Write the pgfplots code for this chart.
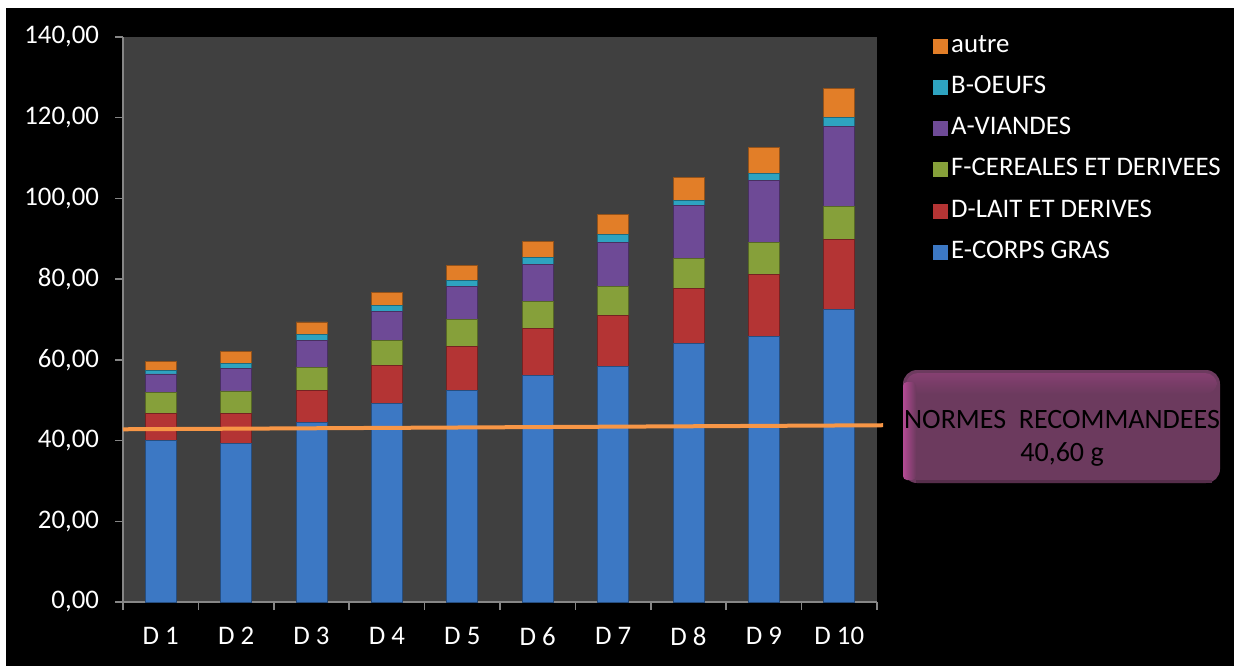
\documentclass[border=0pt]{standalone}
\usepackage{pgfplots}
\pgfplotsset{compat=1.18}
\usepackage{pgfplotstable}
\usepackage{fontspec}
\setmainfont{Carlito}

\definecolor{cgras}{RGB}{60,120,196}
\definecolor{clait}{RGB}{180,52,52}
\definecolor{ccer}{RGB}{134,160,58}
\definecolor{cvia}{RGB}{110,74,150}
\definecolor{coeuf}{RGB}{46,163,192}
\definecolor{cautre}{RGB}{226,126,40}
\definecolor{plotbg}{RGB}{64,64,64}
\definecolor{axisgray}{RGB}{134,134,134}
\definecolor{normline}{RGB}{247,150,70}
\definecolor{boxfill}{RGB}{108,58,94}
\definecolor{boxedge}{RGB}{180,74,148}

% consommation par décile (g)
\pgfplotstableread{
x  gras  lait  cer  via   oeuf  autre
1  40.1  6.7   5.1  4.6   0.8   2.4
2  39.3  7.5   5.5  5.6   1.2   2.9
3  44.4  8.1   5.6  6.8   1.5   3.0
4  49.2  9.5   6.0  7.4   1.4   3.3
5  52.4  10.9  6.7  8.3   1.3   3.7
6  56.2  11.6  6.6  9.3   1.7   4.0
7  58.3  12.6  7.2  10.9  2.0   5.1
8  64.1  13.6  7.4  13.2  1.2   5.6
9  65.7  15.5  7.8  15.4  1.8   6.5
10 72.5  17.4  8.2  19.8  2.1   7.3
}\conso

\pgfplotsset{
  seg/.style={fill=#1, draw=#1!65!black, line width=0.4pt,
    legend image code/.code={\fill[#1, draw=none] (0pt,-3.75pt) rectangle (7.5pt,3.75pt);}},
  frame/.style={
    at={(61.5pt,32pt)}, anchor=south west,
    scale only axis, width=377pt, height=282.5pt,
    xmin=0.5, xmax=10.5, ymin=0, ymax=140,
  },
}

\begin{document}
\begin{tikzpicture}
\useasboundingbox (0,0) rectangle (617pt,333pt);
\fill[white] (0,0) rectangle (617pt,333pt);
\fill[black] (3pt,0) rectangle (617pt,329pt);

\begin{axis}[
  frame,
  axis background/.style={fill=plotbg},
  ybar stacked, bar width=15.5pt,
  axis lines*=left,
  axis line style={axisgray, line width=0.75pt},
  tick align=outside, major tick length=4pt,
  tick style={axisgray, line width=0.75pt},
  xtick={0.5,1.5,...,10.5}, x tick label as interval,
  xticklabels={D 1,D 2,D 3,D 4,D 5,D 6,D 7,D 8,D 9,D 10},
  ytick={0,20,...,140},
  ticklabel style={font=\fontsize{13.4}{15}\selectfont, text=white},
  xticklabel style={yshift=-5pt},
  yticklabel style={xshift=-4.5pt},
  reverse legend,
  legend cell align=left,
  legend style={at={(1.066,1.018)}, anchor=north west, draw=none, fill=none,
    text=white, font=\fontsize{13.4}{15}\selectfont, row sep=5.6pt,
    nodes={inner sep=1.5pt, text height=9pt, text depth=3pt}},
  /pgf/number format/fixed, /pgf/number format/fixed zerofill,
  /pgf/number format/precision=2, /pgf/number format/use comma,
  /pgf/number format/1000 sep={}, /pgf/number format/assume math mode=true,
]
\addplot[seg=cgras]  table[x=x, y=gras]  {\conso}; \addlegendentry{E-CORPS GRAS}
\addplot[seg=clait]  table[x=x, y=lait]  {\conso}; \addlegendentry{D-LAIT ET DERIVES}
\addplot[seg=ccer]   table[x=x, y=cer]   {\conso}; \addlegendentry{F-CEREALES ET DERIVEES}
\addplot[seg=cvia]   table[x=x, y=via]   {\conso}; \addlegendentry{A-VIANDES}
\addplot[seg=coeuf]  table[x=x, y=oeuf]  {\conso}; \addlegendentry{B-OEUFS}
\addplot[seg=cautre] table[x=x, y=autre] {\conso}; \addlegendentry{autre}
\end{axis}

% trait de la norme recommandée
\begin{axis}[frame, hide axis, clip=false]
\addplot[normline, line width=2pt] coordinates {(0.5,42.8) (10.58,43.8)};
\end{axis}

% encadré de la norme
\fill[boxfill, rounded corners=7pt] (451.5pt,91.5pt) -- (451.5pt,148pt) -- (610pt,148pt) -- (610pt,91.5pt) -- cycle;
\shade[top color=boxedge!35!boxfill, bottom color=boxfill, rounded corners=6pt]
  (453pt,136pt) -- (453pt,146.5pt) -- (608.5pt,146.5pt) -- (608.5pt,136pt) -- cycle;
\shade[left color=boxedge, right color=boxfill, rounded corners=2pt] (451.5pt,93pt) rectangle (458pt,142pt);
\fill[boxfill!80!black] (458pt,91.5pt) rectangle (606pt,93pt);
\node[font=\fontsize{14}{16.5}\selectfont, text=black, align=center] at (531pt,114pt)
  {NORMES\ \ RECOMMANDEES\\40,60 g};
\end{tikzpicture}
\end{document}
